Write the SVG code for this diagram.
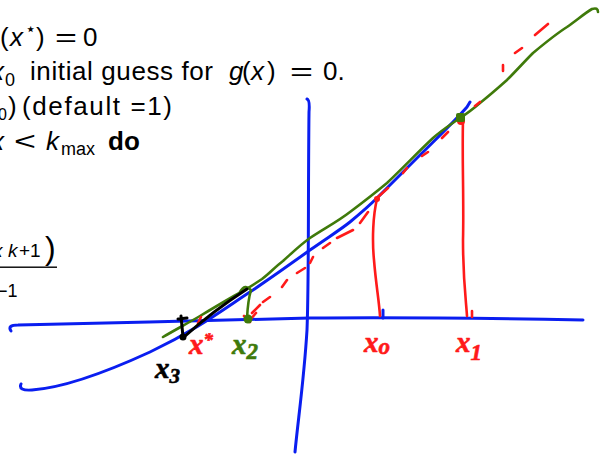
<svg xmlns="http://www.w3.org/2000/svg" width="600" height="457" viewBox="0 0 600 457">
<style>
.t{font-family:"Liberation Sans",Arial,sans-serif;font-size:26px;fill:#000}
.i{font-style:italic}
.s{font-size:18px}
.b{font-weight:bold}
.ink{fill:none;stroke-linecap:round;stroke-linejoin:round}
.blue{stroke:#0a1ef0;stroke-width:3}
.green{stroke:#3f7a0a;stroke-width:2.6}
.red{stroke:#ff1a1a;stroke-width:2.6}
.black{stroke:#000;stroke-width:3}
.hw{font-family:"Liberation Serif","DejaVu Serif",serif;font-style:italic;font-weight:bold;font-size:29px;stroke-width:0.6}
</style>
<g id="text">
<text class="t" x="0" y="46">(</text>
<text class="t i" x="10" y="46">x</text>
<text class="t s" x="25" y="35">⋆</text>
<text class="t" x="36" y="46">)</text>
<text class="t" x="55" y="46" textLength="22" lengthAdjust="spacingAndGlyphs">=</text>
<text class="t" x="83" y="46">0</text>

<text class="t i" x="-9" y="80">x</text>
<text class="t s" x="5" y="86">0</text>
<text class="t" x="30" y="80" textLength="183">initial guess for</text>
<text class="t i" x="229" y="80">g</text>
<text class="t" x="242" y="80">(</text>
<text class="t i" x="251" y="80">x</text>
<text class="t" x="267" y="80">)</text>
<text class="t" x="290" y="80" textLength="23" lengthAdjust="spacingAndGlyphs">=</text>
<text class="t" x="323" y="80">0.</text>

<text class="t" x="-2" y="120" style="font-size:16px">0</text>
<text class="t" x="8" y="115">)</text>
<text class="t" x="22" y="115" textLength="150">(default =1)</text>

<text class="t i" x="-9" y="150">x</text>
<text class="t" x="14" y="150" textLength="22" lengthAdjust="spacingAndGlyphs">&lt;</text>
<text class="t i" x="46" y="150">k</text>
<text class="t s" x="61" y="155">max</text>
<text class="t b" x="108" y="150">do</text>

<text class="t i" x="-7" y="257" style="font-size:19px">x</text>
<text class="t i" x="8" y="257" style="font-size:19px">k</text>
<text class="t" x="19" y="257" style="font-size:19px">+1</text>
<text class="t" x="45" y="259" style="font-size:32px">)</text>
<rect x="0" y="266.5" width="57" height="1.4" fill="#000"/>
<text class="t s" x="-3" y="297">−1</text>
</g>
<g id="axes">
<path class="ink blue" d="M11,331 Q7,325 18,325 C100,323 250,320 310,318 C400,317 480,318 583,320"/>
<path class="ink blue" d="M307,99 Q310,100 309,112 C308,200 309,280 307,330 C304,380 298,420 295,452"/>
<path class="ink blue" d="M383,310 L383,318"/>
</g>
<g id="function">
<path class="ink blue" d="M21,384 Q18,391 32,390 C60,388 100,375 150,352 C200,328 225,308 253,290 C275,275 292,263 310,250 C330,236 340,230 350,222 C362,212 370,205 377,198 C392,183 405,170 420,155 C437,138 452,124 467,107 L470,102"/>
</g>
<g id="connectors">
<path class="ink green" d="M163,337 C175,330 188,323 200,316 C215,307 230,298 243,291 C250,287 256,283 262,279 C270,273 275,267 283,261 C292,253 300,245 310,238 C325,228 337,222 350,212 C362,203 375,193 387,183 C403,168 418,152 433,138 C442,130 450,125 460,118 C468,113 473,109 480,103 C490,95 498,88 507,80 C516,71 524,62 533,53 C545,43 556,34 567,27 C577,20 585,13 592,9 Q598,7 598,12"/>
<path class="ink green" d="M240,292 Q245,283 251,290 Q248,300 247,318"/>
<path class="ink red" d="M377,199 C373,215 372,240 374,260 C376,285 379,300 380,316"/>
<path class="ink red" d="M463,120 C462,160 464,200 463,240 C463,280 466,300 467,316 M472,311 L472,317"/>
<path class="ink red" d="M548,24 L535,35 M522,48 L515,53 M503,65 L503,71 M480,102 L475,106 M448,132 L442,138 M428,152 L422,156 M407,168 L403,173 M388,188 L378,197 M368,212 L360,223 M353,230 L337,238 M330,243 L323,248 M313,257 L310,263 M305,268 L297,273 M287,280 L282,287 M270,297 L263,302 M260,305 L252,313 M256,313 L249,321 M244,316 L250,322 M201,317 L198,323"/>
<path class="ink black" d="M247,289 C230,300 205,318 184,337 M181,316 L183,337 M178,319 L187,318"/>
<circle cx="461" cy="121" r="4" fill="#ff1a1a"/>
<rect x="456" y="113" width="9" height="9" rx="2" fill="#3f7a0a"/>
<circle cx="248" cy="319" r="4.5" fill="#3f7a0a"/>
<circle cx="377" cy="199" r="3" fill="#ff1a1a"/>
<circle cx="183" cy="337" r="3.5" fill="#000"/>
</g>
<g id="labels">
<text class="hw" x="155" y="378" fill="#000" stroke="#000">x<tspan font-size="21" dy="5">3</tspan></text>
<text class="hw" x="189" y="354" fill="#ff1a1a" stroke="#ff1a1a" font-size="25">x<tspan font-size="19" dy="-8">*</tspan></text>
<text class="hw" x="232" y="354" fill="#3f7a0a" stroke="#3f7a0a">x<tspan font-size="23" dy="5">2</tspan></text>
<text class="hw" x="364" y="352" fill="#ff1a1a" stroke="#ff1a1a">x<tspan font-size="23" dy="2">o</tspan></text>
<text class="hw" x="456" y="352" fill="#ff1a1a" stroke="#ff1a1a">x<tspan font-size="23" dy="8">1</tspan></text>
</g>
</svg>
